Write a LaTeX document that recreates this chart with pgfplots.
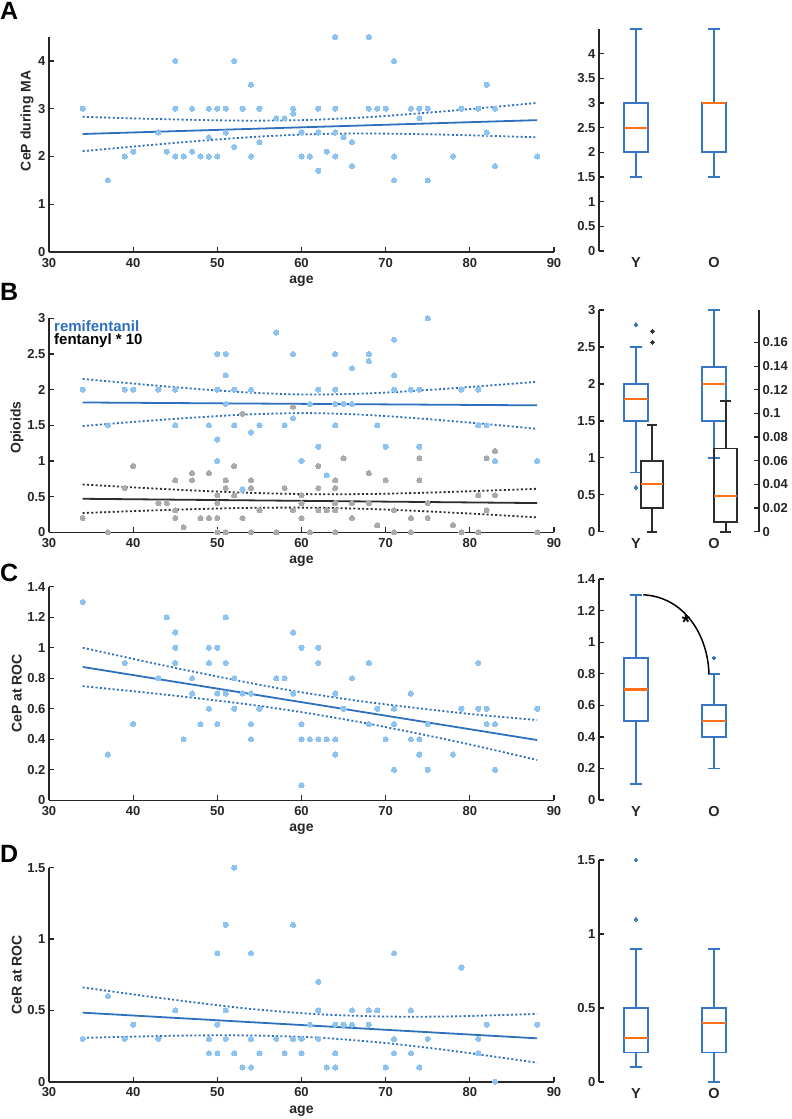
\documentclass[border=0pt]{standalone}
\usepackage{pgfplots}
\pgfplotsset{compat=1.18}
\usepgfplotslibrary{statistics}
\usepackage{fontspec}
\setmainfont{Liberation Sans}
\definecolor{dotblue}{RGB}{141,195,238}
\definecolor{lineblue}{RGB}{46,112,190}
\definecolor{boxblue}{RGB}{52,118,196}
\definecolor{medorange}{RGB}{252,112,24}
\definecolor{axgray}{RGB}{38,38,38}
\definecolor{dotgray}{RGB}{170,170,170}
\definecolor{fentgray}{RGB}{45,45,45}
\pgfplotsset{
  base/.style={
    scale only axis, clip=false,
    axis x line*=bottom, axis y line*=left,
    axis line style={-, line width=1.6pt, draw=axgray},
    tick style={line width=1.3pt, draw=axgray},
    tick align=inside, major tick length=5pt,
    tick label style={font=\bfseries\fontsize{13}{15}\selectfont, text=axgray},
    /pgf/number format/assume math mode=true,
    boxplot/draw direction=y,
  },
  sc/.style={base, xmin=30, xmax=90, xtick={30,40,50,60,70,80,90}, width=505pt,
    xticklabel style={yshift=-2.5pt},
    xlabel={age},
    xlabel style={at={(axis description cs:0.5,0)}, anchor=center, yshift=-29pt, font=\bfseries\fontsize{14}{16}\selectfont, text=axgray},
    ylabel style={font=\bfseries\fontsize{14}{16}\selectfont, text=axgray, anchor=center},
  },
  bx/.style={base, xmin=0.526, xmax=2.577, width=160pt, xtick={1,2}, xticklabels={Y,O},
    x axis line style={draw=none}, xtick style={draw=none},
    xticklabel style={font=\bfseries\fontsize{14.5}{16}\selectfont, yshift=-3pt},
  },
  dots/.style={color=#1, only marks, mark=*, mark size=2.6pt, mark options={draw=#1, fill=#1, line width=0pt}},
  fitline/.style={line width=1.8pt, color=#1, no marks},
  ciline/.style={line width=1.8pt, color=#1, no marks, smooth, dash pattern=on 2pt off 2.3pt},
  bxp/.style={draw=#1, line width=1.8pt, boxplot/every median/.style={draw=medorange, line width=2.2pt}},
  outl/.style={color=#1, only marks, mark=*, mark size=1.9pt, mark options={draw=#1, fill=#1, line width=0pt}},
}
\begin{document}
\begin{tikzpicture}[x=1pt,y=1pt]
\useasboundingbox (0pt,0pt) rectangle (792pt,-1119pt);
\tikzset{panel/.style={anchor=base west, inner sep=0, font=\bfseries\fontsize{25}{28}\selectfont}}
\node[panel] at (0pt,-19pt) {A};
\node[panel] at (0pt,-300pt) {B};
\node[panel] at (0pt,-581pt) {C};
\node[panel] at (0pt,-862pt) {D};

% ---------------- A scatter
\begin{axis}[sc, at={(49pt,-252pt)}, anchor=south west, height=215pt, ymin=0, ymax=4.5, ytick={0,1,2,3,4},
  ylabel={CeP during MA}, ylabel style={at={(axis description cs:-0.0436,0.61)}}]
\addplot[dots=dotblue] coordinates {(34,3)(37,1.5)(39,2)(40,2.1)(43,2.5)(44,2.1)(45,4)(45,3)(45,2)(46,2)(47,3)(47,2.1)(48,2)(49,3)(49,2.4)(49,2)(50,3)(50,2)(51,3)(51,2.5)(52,4)(52,2.2)(53,3)(54,3.5)(54,2)(55,3)(55,2.3)(57,2.8)(58,2.8)(59,3)(59,2.9)(60,2.5)(60,2)(61,2)(62,3)(62,2.5)(62,1.7)(63,2.1)(64,4.5)(64,3)(64,2.5)(64,2)(65,2.4)(66,2.3)(66,1.8)(68,4.5)(68,3)(69,3)(70,3)(71,4)(71,2)(71,1.5)(73,3)(74,3)(74,2.8)(75,3)(75,1.5)(78,2)(79,3)(81,3)(82,3.5)(82,2.5)(83,3)(83,1.8)(88,2)};
\addplot[fitline=lineblue] coordinates {(34,2.47)(88,2.76)};
\addplot[ciline=lineblue] coordinates {(34,2.83)(40,2.797)(47,2.766)(54,2.749)(61,2.765)(68,2.824)(75,2.916)(82,3.023)(88,3.12)};
\addplot[ciline=lineblue] coordinates {(34,2.11)(40,2.207)(47,2.314)(54,2.405)(61,2.465)(68,2.48)(75,2.464)(82,2.433)(88,2.40)};
\end{axis}

% ---------------- A box
\begin{axis}[bx, at={(599pt,-251pt)}, anchor=south west, height=222pt, ymin=0, ymax=4.5, ytick={0,0.5,1,1.5,2,2.5,3,3.5,4}]
\addplot[bxp=boxblue, boxplot prepared={draw position=1, lower whisker=1.5, lower quartile=2, median=2.5, upper quartile=3, upper whisker=4.5, box extend=0.314, whisker extend=0.15}] coordinates {};
\addplot[bxp=boxblue, boxplot prepared={draw position=2, lower whisker=1.5, lower quartile=2, median=3, upper quartile=3, upper whisker=4.5, box extend=0.314, whisker extend=0.15}] coordinates {};
\end{axis}

% ---------------- B scatter
\begin{axis}[sc, at={(49pt,-532.3pt)}, anchor=south west, height=214pt, ymin=0, ymax=3, ytick={0,0.5,1,1.5,2,2.5,3},
  ylabel={Opioids}, ylabel style={at={(axis description cs:-0.0634,0.49)}}]
\addplot[dots=dotblue] coordinates {(34,2)(37,1.5)(39,2)(40,2)(43,2)(45,2)(45,1.5)(49,1.5)(50,2.5)(50,2)(50,1.3)(50,1)(51,2.5)(51,2.2)(51,1.8)(52,2)(52,1.5)(53,0.6)(54,2)(54,1.4)(55,1.5)(57,2.8)(58,1.5)(59,2.5)(59,1.6)(60,1)(61,1.8)(62,2)(62,1.2)(63,0.8)(64,2.5)(64,2)(64,1.8)(64,1.5)(65,1.8)(66,2.3)(66,1.8)(68,2.5)(68,2.4)(69,1.5)(70,1.2)(71,2.7)(71,2.2)(71,2)(73,2)(74,2)(74,1.2)(75,3)(79,2)(81,2)(81,1.5)(82,1.5)(83,1)(88,1)};
\addplot[dots=dotgray] coordinates {(34,0.2)(37,0)(39,0.62)(40,0.93)(43,0.41)(44,0.41)(45,0.73)(45,0.31)(45,0.2)(46,0.07)(47,0.83)(47,0.73)(48,0.2)(49,0.83)(49,0.2)(50,0.52)(50,0.41)(50,0.2)(50,0)(51,0.73)(51,0.62)(51,0)(52,0.93)(52,0.52)(53,1.66)(53,0.2)(54,0.73)(54,0.62)(54,0)(55,0.31)(57,0)(58,0.62)(59,1.76)(59,0.31)(60,0.52)(60,0.41)(60,0.2)(61,0)(62,0.93)(62,0.62)(62,0.31)(63,0.31)(64,0.73)(64,0.62)(64,0.41)(64,0.31)(64,0)(65,1.04)(66,0.41)(66,0.2)(68,0.83)(68,0.41)(69,0.1)(70,0.73)(71,0.31)(71,0)(73,0.2)(73,0)(74,1.04)(74,0.73)(75,0.41)(75,0.2)(78,0.1)(79,0)(81,0.52)(81,0)(82,1.04)(82,0.31)(83,1.14)(83,0.52)(88,0)};
\addplot[fitline=lineblue] coordinates {(34,1.82)(88,1.78)};
\addplot[ciline=lineblue] coordinates {(34,2.15)(40,2.085)(47,2.015)(54,1.958)(61,1.931)(68,1.948)(75,1.995)(82,2.055)(88,2.11)};
\addplot[ciline=lineblue] coordinates {(34,1.49)(40,1.547)(47,1.607)(54,1.654)(61,1.671)(68,1.644)(75,1.587)(82,1.517)(88,1.45)};
\addplot[fitline=fentgray] coordinates {(34,0.47)(88,0.41)};
\addplot[ciline=fentgray] coordinates {(34,0.67)(40,0.63)(47,0.587)(54,0.553)(61,0.535)(68,0.537)(75,0.556)(82,0.584)(88,0.61)};
\addplot[ciline=fentgray] coordinates {(34,0.27)(40,0.297)(47,0.324)(54,0.343)(61,0.345)(68,0.327)(75,0.293)(82,0.25)(88,0.21)};
\end{axis}
\node[anchor=base west, inner sep=0, font=\bfseries\fontsize{15}{16}\selectfont, text=lineblue] at (54pt,-331pt) {remifentanil};
\node[anchor=base west, inner sep=0, font=\bfseries\fontsize{15}{16}\selectfont, text=black] at (54pt,-344pt) {fentanyl * 10};

% ---------------- B box (left axis: remifentanil)
\begin{axis}[bx, at={(599pt,-531.7pt)}, anchor=south west, height=221.7pt, ymin=0, ymax=3, ytick={0,0.5,1,1.5,2,2.5,3}]
\addplot[bxp=boxblue, boxplot prepared={draw position=1, lower whisker=0.8, lower quartile=1.5, median=1.8, upper quartile=2, upper whisker=2.5, box extend=0.314, whisker extend=0.15}] coordinates {};
\addplot[bxp=boxblue, boxplot prepared={draw position=2, lower whisker=1, lower quartile=1.5, median=2, upper quartile=2.23, upper whisker=3, box extend=0.314, whisker extend=0.15}] coordinates {};
\addplot[outl=boxblue] coordinates {(1,2.8)(1,0.6)};
\end{axis}
% ---------------- B box (right axis: fentanyl)
\begin{axis}[base, at={(599pt,-531.7pt)}, anchor=south west, width=160pt, height=221.7pt, xmin=0.526, xmax=2.577,
  axis x line=none, axis y line*=right, ymin=0, ymax=0.1875, ytick={0,0.02,0.04,0.06,0.08,0.1,0.12,0.14,0.16},
  yticklabel style={/pgf/number format/fixed, /pgf/number format/precision=2}]
\addplot[bxp=fentgray, boxplot prepared={draw position=1.205, lower whisker=0, lower quartile=0.020, median=0.0404, upper quartile=0.0601, upper whisker=0.0904, box extend=0.29, whisker extend=0.14}] coordinates {};
\addplot[bxp=fentgray, boxplot prepared={draw position=2.15, lower whisker=0, lower quartile=0.0079, median=0.030, upper quartile=0.0704, upper whisker=0.1105, box extend=0.29, whisker extend=0.14}] coordinates {};
\addplot[outl=fentgray] coordinates {(1.21,0.1696)(1.21,0.1603)};
\end{axis}

% ---------------- C scatter
\begin{axis}[sc, at={(49pt,-800.3pt)}, anchor=south west, height=213.6pt, ymin=0, ymax=1.4, ytick={0,0.2,0.4,0.6,0.8,1,1.2,1.4},
  ylabel={CeP at ROC}, ylabel style={at={(axis description cs:-0.064,0.5)}}]
\addplot[dots=dotblue] coordinates {(34,1.3)(37,0.3)(39,0.9)(40,0.5)(43,0.8)(44,1.2)(45,1.1)(45,1)(45,0.9)(46,0.4)(47,0.8)(47,0.7)(48,0.5)(49,1)(49,0.9)(49,0.6)(50,1)(50,0.7)(50,0.5)(51,1.2)(51,0.9)(51,0.7)(52,0.8)(52,0.6)(53,0.7)(54,0.7)(54,0.5)(54,0.4)(55,0.6)(57,0.8)(58,0.8)(59,1.1)(59,0.7)(60,1)(60,0.5)(60,0.4)(60,0.1)(61,0.4)(62,1)(62,0.9)(62,0.4)(63,0.4)(64,0.7)(64,0.4)(64,0.3)(65,0.6)(66,0.8)(68,0.9)(68,0.5)(69,0.6)(70,0.4)(71,0.6)(71,0.5)(71,0.2)(73,0.7)(73,0.4)(74,0.4)(74,0.3)(75,0.5)(75,0.2)(78,0.3)(79,0.6)(81,0.9)(81,0.6)(82,0.6)(82,0.5)(83,0.5)(83,0.2)(88,0.6)};
\addplot[fitline=lineblue] coordinates {(34,0.874)(88,0.395)};
\addplot[ciline=lineblue] coordinates {(34,1.0)(40,0.927)(47,0.845)(54,0.768)(60,0.708)(67,0.65)(73,0.609)(80,0.566)(88,0.526)};
\addplot[ciline=lineblue] coordinates {(34,0.748)(40,0.715)(47,0.673)(54,0.626)(60,0.578)(67,0.512)(73,0.447)(80,0.366)(88,0.264)};
\end{axis}

% ---------------- C box
\begin{axis}[bx, at={(599pt,-800pt)}, anchor=south west, height=221pt, ymin=0, ymax=1.4, ytick={0,0.2,0.4,0.6,0.8,1,1.2,1.4}]
\addplot[bxp=boxblue, boxplot prepared={draw position=1, lower whisker=0.1, lower quartile=0.5, median=0.7, upper quartile=0.9, upper whisker=1.3, box extend=0.314, whisker extend=0.15}] coordinates {};
\addplot[bxp=boxblue, boxplot prepared={draw position=2, lower whisker=0.2, lower quartile=0.4, median=0.5, upper quartile=0.6, upper whisker=0.8, box extend=0.314, whisker extend=0.15}] coordinates {};
\addplot[outl=boxblue] coordinates {(2,0.9)};
\draw[line width=1.5pt, black] (axis cs:1.094,1.3) to[out=-3,in=92] (axis cs:1.936,0.8);
\node[font=\bfseries\fontsize{21}{22}\selectfont, inner sep=0, yshift=-4pt] at (axis cs:1.64,1.153) {*};
\end{axis}

% ---------------- D scatter
\begin{axis}[sc, at={(49pt,-1081.7pt)}, anchor=south west, height=214pt, ymin=0, ymax=1.5, ytick={0,0.5,1,1.5},
  ylabel={CeR at ROC}, ylabel style={at={(axis description cs:-0.064,0.5)}}]
\addplot[dots=dotblue] coordinates {(34,0.3)(37,0.6)(39,0.3)(40,0.4)(43,0.3)(45,0.5)(49,0.3)(49,0.2)(50,0.9)(50,0.4)(50,0.2)(51,1.1)(51,0.5)(51,0.3)(52,1.5)(52,0.2)(53,0.1)(54,0.9)(54,0.3)(54,0.1)(55,0.2)(57,0.3)(58,0.2)(59,1.1)(59,0.3)(60,0.3)(60,0.2)(61,0.4)(62,0.7)(62,0.5)(62,0.3)(63,0.1)(64,0.4)(64,0.2)(64,0.1)(65,0.4)(66,0.5)(66,0.4)(68,0.5)(68,0.4)(69,0.5)(70,0.1)(71,0.9)(71,0.3)(71,0.2)(73,0.5)(73,0.2)(74,0.1)(75,0.3)(79,0.8)(81,0.3)(81,0.2)(82,0.4)(83,0)(88,0.4)};
\addplot[fitline=lineblue] coordinates {(34,0.484)(88,0.304)};
\addplot[ciline=lineblue] coordinates {(34,0.661)(40,0.612)(47,0.558)(54,0.51)(62,0.473)(70,0.457)(78,0.458)(88,0.475)};
\addplot[ciline=lineblue] coordinates {(34,0.307)(40,0.316)(47,0.324)(54,0.324)(62,0.309)(70,0.271)(78,0.216)(88,0.133)};
\end{axis}

% ---------------- D box
\begin{axis}[bx, at={(599pt,-1082pt)}, anchor=south west, height=222pt, ymin=0, ymax=1.5, ytick={0,0.5,1,1.5}]
\addplot[bxp=boxblue, boxplot prepared={draw position=1, lower whisker=0.1, lower quartile=0.2, median=0.3, upper quartile=0.5, upper whisker=0.9, box extend=0.314, whisker extend=0.15}] coordinates {};
\addplot[bxp=boxblue, boxplot prepared={draw position=2, lower whisker=0, lower quartile=0.2, median=0.4, upper quartile=0.5, upper whisker=0.9, box extend=0.314, whisker extend=0.15}] coordinates {};
\addplot[outl=boxblue] coordinates {(1,1.1)(1,1.5)};
\end{axis}
\end{tikzpicture}
\end{document}
